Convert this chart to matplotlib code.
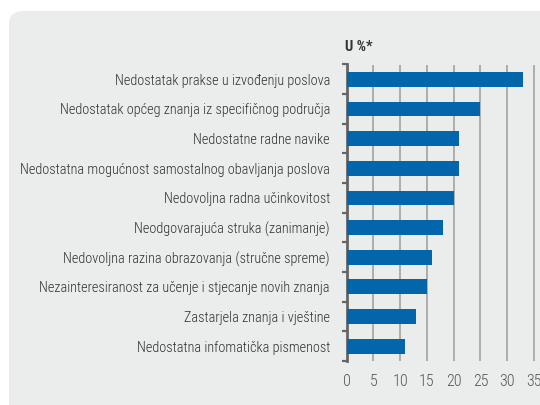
import matplotlib
matplotlib.use("Agg")
import matplotlib.pyplot as plt
from matplotlib.patches import FancyBboxPatch
from matplotlib.ticker import FixedLocator

plt.rcParams['font.family'] = ['Roboto Condensed', 'DejaVu Sans']

categories = [
    "Nedostatak prakse u izvođenju poslova",
    "Nedostatak općeg znanja iz specifičnog područja",
    "Nedostatne radne navike",
    "Nedostatna mogućnost samostalnog obavljanja poslova",
    "Nedovoljna radna učinkovitost",
    "Neodgovarajuća struka (zanimanje)",
    "Nedovoljna razina obrazovanja (stručne spreme)",
    "Nezainteresiranost za učenje i stjecanje novih znanja",
    "Zastarjela znanja i vještine",
    "Nedostatna infomatička pismenost",
]
values = [33, 25, 21, 21, 20, 18, 16, 15, 13, 11]
xticks = [0, 5, 10, 15, 20, 25, 30, 35]

W, H = 540, 405
fig = plt.figure(figsize=(5.4, 4.05), dpi=100)
fig.patch.set_facecolor("white")

# grey panel, only its rounded top-left corner is visible
panel = FancyBboxPatch((9 / W, -0.2), 1.2, 1.2 - 11 / H,
                       boxstyle="round,pad=0,rounding_size=0.03",
                       transform=fig.transFigure, facecolor="#ebecec",
                       edgecolor="none", zorder=-10)
fig.patches.append(panel)

ax = fig.add_axes([346.6 / W, 1 - 361 / H, (535 - 346.6) / W, (361 - 64.5) / H])
ax.set_facecolor("none")
ax.set_zorder(2)

y = list(range(len(categories)))
ax.barh(y, values, height=0.5, color="#0466aa", zorder=3)

ax.set_xlim(0, 35.2)
ax.set_ylim(len(categories) - 0.5, -0.5)
ax.set_xticks(xticks)
ax.set_xticklabels([str(t) for t in xticks], fontweight=300)
ax.xaxis.grid(True, color="#a8a8a8", linewidth=1.3, zorder=1)
ax.set_axisbelow(True)

ax.set_yticks(y)
ax.set_yticklabels(categories, fontweight=300)
ax.yaxis.set_minor_locator(FixedLocator([i - 0.5 for i in range(len(categories) + 1)]))
ax.tick_params(axis="y", which="major", length=0, pad=12, labelsize=10.3, labelcolor="#2e2e2e")
ax.tick_params(axis="y", which="minor", length=3.5, width=1.6, color="#666666")
ax.tick_params(axis="x", length=0, pad=9, labelsize=11.5, labelcolor="#555555")

for s in ["top", "right", "bottom"]:
    ax.spines[s].set_visible(False)
ax.spines["left"].set_color("#666666")
ax.spines["left"].set_linewidth(2)

fig.text(345 / W, 1 - 47 / H, "U %*", fontsize=10.5, fontweight="bold",
         color="#333333", ha="left", va="center")

fig.savefig("out.png", dpi=100)
